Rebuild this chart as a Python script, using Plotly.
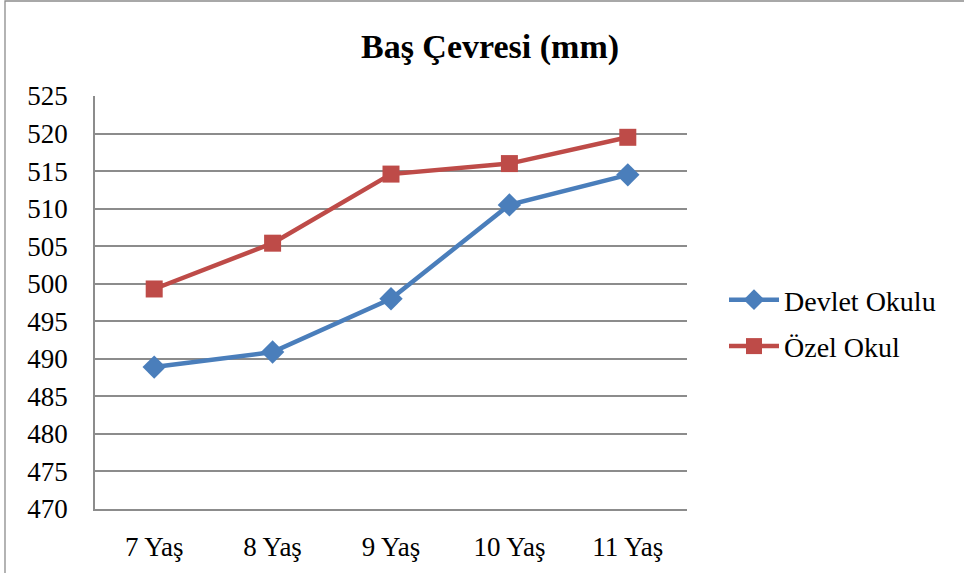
import plotly.graph_objects as go

categories = ["7 Yaş", "8 Yaş", "9 Yaş", "10 Yaş", "11 Yaş"]
devlet = [488.9, 490.9, 498.0, 510.5, 514.5]
ozel = [499.3, 505.4, 514.6, 516.0, 519.5]
y_ticks = [470, 475, 480, 485, 490, 495, 500, 505, 510, 515, 520, 525]

FONT = "Times New Roman, Liberation Serif, serif"

fig = go.Figure()
fig.add_trace(go.Scatter(
    x=categories, y=devlet, name="Devlet Okulu", mode="lines+markers",
    legendgroup="d",
    line=dict(color="#4a7ebb", width=4.5),
    marker=dict(symbol="diamond", size=18, color="#4a7ebb"),
))
fig.add_trace(go.Scatter(
    x=categories, y=ozel, name="Özel Okul", mode="lines+markers",
    legendgroup="o",
    line=dict(color="#be4b48", width=4.5),
    marker=dict(symbol="square", size=17, color="#be4b48"),
))

W, H = 964, 573
ml, mt, mr, mb = 95, 96, 277, 64
pw, ph = W - ml - mr, H - mt - mb

def px_x(p):
    return (p - ml) / pw

def px_y(p):
    return (H - mb - p) / ph

fig.add_shape(type="rect", xref="paper", yref="paper",
              x0=px_x(5), x1=px_x(975), y0=px_y(585), y1=px_y(1),
              line=dict(color="#8c8c8c", width=1.3), layer="below")

fig.update_layout(
    width=W, height=H,
    margin=dict(l=ml, r=mr, t=mt, b=mb),
    paper_bgcolor="white", plot_bgcolor="white",
    font=dict(family=FONT, size=27, color="black"),
    title=dict(text="<b>Baş Çevresi (mm)</b>", x=490 / W, xanchor="center",
               y=1 - 46 / H, yanchor="middle",
               font=dict(family=FONT, size=34, color="black")),
    showlegend=True,
    legend=dict(x=px_x(724), xanchor="left", y=px_y(323), yanchor="middle",
                font=dict(family=FONT, size=28, color="black"),
                itemwidth=50, tracegroupgap=7, bgcolor="rgba(0,0,0,0)"),
    xaxis=dict(type="category", categoryorder="array", categoryarray=categories,
               showgrid=False, showline=True, linecolor="#8c8c8c", linewidth=1.5,
               ticks="", ticklabelstandoff=13, range=[-0.5, 4.5], automargin=False,
               tickfont=dict(family=FONT, size=27, color="black")),
    yaxis=dict(range=[470, 525], tickvals=y_ticks, showgrid=True,
               gridcolor="#8c8c8c", gridwidth=1.5, showline=True, automargin=False,
               linecolor="#8c8c8c", linewidth=1.5, ticks="", zeroline=False,
               ticklabelstandoff=20,
               tickfont=dict(family=FONT, size=27, color="black")),
)

fig.write_html("out.html")
